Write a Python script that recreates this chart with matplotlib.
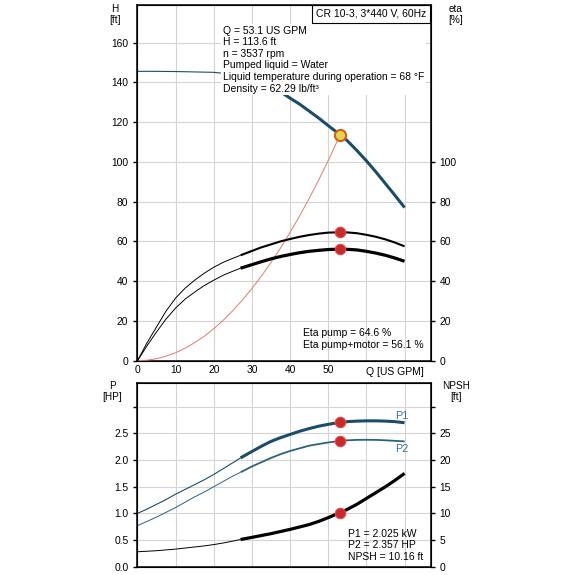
import numpy as np
import matplotlib
matplotlib.use('Agg')
import matplotlib.pyplot as plt

plt.rcParams['font.family'] = ['Liberation Sans', 'DejaVu Sans']
plt.rcParams['font.size'] = 7.4

# flow points (US GPM)
q = [0, 2.5, 5, 7.5, 10, 12.5, 15, 17.5, 20, 22.5, 25, 27, 30, 32.5, 35, 37.5,
     40, 42.5, 45, 47.5, 50, 53.1, 55, 57.5, 60, 62.5, 65, 67.5, 70]
head = [145.5, 145.5, 145.5, 145.45, 145.4, 145.3, 145.2, 145.1, 145.0, 144.5,
        143.8, 143.0, 141.5, 140.0, 138.0, 135.2, 132.0, 129.0, 125.5, 122.0,
        118.2, 113.6, 110.6, 105.7, 100.5, 94.9, 89.0, 83.1, 77.0]
eta_pump = [0, 9, 17, 25, 31.5, 36.5, 40.5, 44, 47, 49.5, 51.5, 53, 55.2, 57,
            58.5, 60, 61.2, 62.3, 63.2, 63.9, 64.4, 64.6, 64.5, 64.1, 63.3, 62.3,
            61, 59.4, 57.5]
eta_total = [0, 7.5, 14.5, 21, 26.5, 31, 34.5, 37.8, 40.5, 43, 45, 46.5, 48.3,
             49.8, 51.2, 52.4, 53.4, 54.3, 55, 55.5, 55.9, 56.1, 56.0, 55.7, 55,
             54.1, 53, 51.6, 50]
p1 = [1.0, 1.08, 1.17, 1.26, 1.36, 1.45, 1.54, 1.63, 1.73, 1.84, 1.95, 2.04,
      2.16, 2.26, 2.35, 2.42, 2.48, 2.54, 2.59, 2.635, 2.67, 2.707, 2.72, 2.73,
      2.735, 2.735, 2.73, 2.72, 2.70]
p2 = [0.77, 0.85, 0.93, 1.02, 1.11, 1.21, 1.31, 1.40, 1.50, 1.60, 1.70, 1.77,
      1.88, 1.96, 2.04, 2.11, 2.17, 2.22, 2.27, 2.30, 2.33, 2.357, 2.37, 2.378,
      2.38, 2.378, 2.37, 2.36, 2.35]
npsh = [2.8, 2.9, 3.0, 3.15, 3.3, 3.5, 3.7, 3.9, 4.15, 4.45, 4.8, 5.1, 5.5,
        5.85, 6.2, 6.6, 7.0, 7.45, 7.9, 8.5, 9.2, 10.16, 10.75, 11.7, 12.8,
        13.9, 15.0, 16.2, 17.5]

# system curve up to the duty point
q_sys = [0, 2.5, 5, 7.5, 10, 12.5, 15, 17.5, 20, 22.5, 25, 27.5, 30, 32.5, 35,
         37.5, 40, 42.5, 45, 47.5, 50, 52.5, 53.1]
h_sys = [0, 0.25, 1.0, 2.3, 4.0, 6.3, 9.1, 12.3, 16.1, 20.4, 25.2, 30.5, 36.3,
         42.6, 49.4, 56.7, 64.5, 72.8, 81.6, 90.9, 100.7, 111.0, 113.6]

q_op = 53.1
h_op = 113.6
eta_pump_op = 64.6
eta_total_op = 56.1
p1_op = 2.707
p2_op = 2.357
npsh_op = 10.16
q_min = 27  # start of the bold (recommended) range

info = ("Q = 53.1 US GPM\nH = 113.6 ft\nn = 3537 rpm\nPumped liquid = Water\n"
        "Liquid temperature during operation = 68 \u00b0F\nDensity = 62.29 lb/ft\u00b3")

BLUE = '#1b4d6b'
BLUE2 = '#2a6283'
GRID = '#d4d4d4'
RED = '#cc2a2a'


def split_plot(ax, x, y, color, thin, thick):
    x = np.asarray(x)
    y = np.asarray(y)
    a = x <= q_min
    b = x >= q_min
    ax.plot(x[a], y[a], color=color, lw=thin, solid_capstyle='butt')
    ax.plot(x[b], y[b], color=color, lw=thick, solid_capstyle='butt')


def dot(ax, x, y):
    ax.plot([x], [y], 'o', ms=7.5, mfc=RED, mec='#e04a4a', mew=0.8, zorder=6)


fig = plt.figure(figsize=(5.75, 5.75), dpi=100)
xmax = 76.8

# ---- top: head / efficiency
ax1 = fig.add_axes([0.2391, 0.3727, 0.5096, 0.6191])
ax1.set_xlim(0, xmax)
ax1.set_ylim(0, 179)
ax1.set_xticks(np.arange(0, 80, 10))
ax1.set_xticklabels(['0', '10', '20', '30', '40', '50', '', ''])
ax1.set_yticks(np.arange(0, 180, 20))
ax1.tick_params(axis='x', length=0, pad=3)
ax1.tick_params(axis='y', direction='out', length=3, width=1)
ax1.grid(True, color=GRID, lw=0.8)
ax1.set_axisbelow(True)
for s in ax1.spines.values():
    s.set_linewidth(1.1)

ax1.plot(q_sys, h_sys, color='#e27b6b', lw=0.7, zorder=3)
split_plot(ax1, q, head, BLUE, 0.8, 2.2)
ax1.plot([q_op], [h_op], 'o', ms=8, mfc='#e6d44c', mec='#d2601a', mew=1.5, zorder=7)

ax1.text(22.4, 168.5, info, ha='left', va='top', linespacing=1.2, fontsize=7.5,
         zorder=5, bbox=dict(boxstyle='square,pad=0.15', fc='white', ec='none'))
ax1.text(0.985, 0.974, "CR 10-3, 3*440 V, 60Hz", transform=ax1.transAxes,
         ha='right', va='center', fontsize=7.5, zorder=8,
         bbox=dict(boxstyle='square,pad=0.35', fc='white', ec='black', lw=0.8))

ax1r = ax1.twinx()
ax1r.set_ylim(0, 179)
ax1r.set_yticks(np.arange(0, 120, 20))
ax1r.tick_params(axis='y', direction='out', length=3, width=1)
split_plot(ax1r, q, eta_pump, 'black', 0.7, 1.5)
split_plot(ax1r, q, eta_total, 'black', 0.7, 2.3)
dot(ax1r, q_op, eta_pump_op)
dot(ax1r, q_op, eta_total_op)
ax1r.text(0.564, 10.8, "Eta pump = 64.6 %\nEta pump+motor = 56.1 %",
          transform=ax1r.get_yaxis_transform(),
          ha='left', va='center', fontsize=7.5, linespacing=1.2)

fig.text(0.200, 0.993, "H\n[ft]", ha='center', va='top', fontsize=7.2, linespacing=1.15)
fig.text(0.793, 0.993, "eta\n[%]", ha='center', va='top', fontsize=7.2, linespacing=1.15)
fig.text(395 / 575, 1 - 372 / 575, "Q [US GPM]", ha='center', va='center', fontsize=7.5)

# ---- bottom: power / NPSH
ax2 = fig.add_axes([0.2391, 0.01443, 0.5096, 0.3195])
ax2.set_xlim(0, xmax)
ax2.set_ylim(0, 3.445)
ax2.set_xticks(np.arange(0, 80, 10))
ax2.set_xticklabels([])
ax2.set_yticks(np.arange(0, 3.01, 0.5))
ax2.set_yticklabels(['0.0', '0.5', '1.0', '1.5', '2.0', '2.5', ''])
ax2.tick_params(axis='x', length=0)
ax2.tick_params(axis='y', direction='out', length=3, width=1)
ax2.grid(True, color=GRID, lw=0.8)
ax2.set_axisbelow(True)
for s in ax2.spines.values():
    s.set_linewidth(1.1)

split_plot(ax2, q, p1, BLUE, 0.8, 2.2)
split_plot(ax2, q, p2, BLUE2, 0.7, 1.3)
dot(ax2, q_op, p1_op)
dot(ax2, q_op, p2_op)
ax2.text(69.3, 2.83, "P1", color='#3b6ea8', ha='center', va='center', fontsize=7.8)
ax2.text(69.2, 2.21, "P2", color='#3b6ea8', ha='center', va='center', fontsize=7.8)
ax2.text(0.7195, 0.40, "P1 = 2.025 kW\nP2 = 2.357 HP\nNPSH = 10.16 ft",
         transform=ax2.get_yaxis_transform(), ha='left', va='center',
         fontsize=7.5, linespacing=1.2)

ax2r = ax2.twinx()
ax2r.set_ylim(0, 34.45)
ax2r.set_yticks(np.arange(0, 31, 5))
ax2r.set_yticklabels(['0', '5', '10', '15', '20', '25', ''])
ax2r.tick_params(axis='y', direction='out', length=3, width=1)
split_plot(ax2r, q, npsh, 'black', 0.7, 2.3)
dot(ax2r, q_op, npsh_op)

fig.text(0.195, 1 - 381 / 575, "P\n[HP]", ha='center', va='top', fontsize=7.2, linespacing=1.1)
fig.text(0.793, 1 - 381 / 575, "NPSH\n[ft]", ha='center', va='top', fontsize=7.2, linespacing=1.1)

fig.savefig("out.png", dpi=100, facecolor='white')
